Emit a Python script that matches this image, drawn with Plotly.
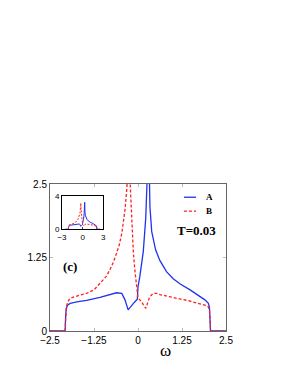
import plotly.graph_objects as go

# Series A (blue, solid)
omega_a = [-2.5, -2.07, -2.06, -2.04, -2.0, -1.93, -1.7, -1.46, -1.08, -0.7, -0.61,
           -0.46, -0.37, -0.28, -0.18, -0.1, -0.02, 0.0, 0.05, 0.1, 0.15, 0.22, 0.26,
           0.3, 0.32, 0.34, 0.39, 0.45, 0.5, 0.62, 0.81, 1.0, 1.2, 1.48, 1.76, 1.9,
           2.0, 2.03, 2.05, 2.06, 2.5]
dos_a = [0, 0, 0.2, 0.38, 0.44, 0.47, 0.5, 0.52, 0.57, 0.63, 0.65,
         0.64, 0.53, 0.36, 0.44, 0.49, 0.54, 0.75, 0.92, 1.12, 1.35, 1.92, 2.6,
         3.25, 2.7, 2.1, 1.69, 1.5, 1.38, 1.2, 1.01, 0.89, 0.8, 0.7, 0.58, 0.53,
         0.47, 0.4, 0.15, 0, 0]

# Series B (red, dashed)
omega_b = [-2.5, -2.07, -2.05, -2.02, -1.97, -1.93, -1.7, -1.46, -1.25, -1.08, -0.9,
           -0.8, -0.7, -0.61, -0.53, -0.46, -0.4, -0.37, -0.32, -0.26, -0.23, -0.18,
           -0.13, -0.09, -0.04, -0.01, 0.0, 0.05, 0.1, 0.15, 0.22, 0.27, 0.33, 0.43,
           0.55, 0.62, 0.8, 1.1, 1.4, 1.76, 1.9, 2.0, 2.03, 2.05, 2.06, 2.5]
dos_b = [0, 0, 0.25, 0.45, 0.52, 0.556, 0.6, 0.64, 0.7, 0.81, 0.93,
         1.04, 1.17, 1.32, 1.47, 1.66, 1.9, 2.06, 2.4, 3.15, 2.6, 1.89,
         1.32, 1.04, 0.75, 0.58, 0.56, 0.53, 0.5, 0.45, 0.386, 0.47, 0.58, 0.64,
         0.64, 0.62, 0.6, 0.556, 0.52, 0.47, 0.44, 0.41, 0.35, 0.15, 0, 0]

main_xticks = [-2.5, -1.25, 0, 1.25, 2.5]
main_xticktext = ["\u22122.5", "\u22121.25", "0", "1.25", "2.5"]
main_yticks = [0, 1.25, 2.5]
main_yticktext = ["0", "1.25", "2.5"]
inset_xticks = [-3, 0, 3]
inset_xticktext = ["\u22123", "0", "3"]
inset_yticks = [0, 4]
inset_yticktext = ["0", "4"]

blue = "#2233ee"
red = "#ff2020"

fig = go.Figure()
fig.add_trace(go.Scatter(x=omega_a, y=dos_a, mode="lines",
                         line=dict(color=blue, width=1.3), showlegend=False))
fig.add_trace(go.Scatter(x=omega_b, y=dos_b, mode="lines",
                         line=dict(color=red, width=1.3, dash="3px,2px"), showlegend=False))
fig.add_trace(go.Scatter(x=omega_a, y=dos_a, mode="lines", xaxis="x2", yaxis="y2",
                         line=dict(color=blue, width=1), showlegend=False))
fig.add_trace(go.Scatter(x=omega_b, y=dos_b, mode="lines", xaxis="x2", yaxis="y2",
                         line=dict(color=red, width=1, dash="2px,1.5px"), showlegend=False))

tickfont = dict(family="Liberation Sans, Arial, sans-serif", size=10, color="#000")
insetfont = dict(family="Liberation Sans, Arial, sans-serif", size=8, color="#000")
axcommon = dict(showgrid=False, zeroline=False, showline=True, linecolor="#666",
                linewidth=1, mirror="allticks", ticks="inside", ticklen=3,
                tickcolor="#bbb")

fig.update_layout(
    width=281, height=366,
    margin=dict(l=42, r=63, t=176, b=43),
    paper_bgcolor="white", plot_bgcolor="white",
    xaxis=dict(range=[-2.5, 2.5], tickvals=main_xticks, ticktext=main_xticktext,
               tickfont=tickfont, domain=[0, 1], **axcommon),
    yaxis=dict(range=[0, 2.5], tickvals=main_yticks, ticktext=main_yticktext,
               tickfont=tickfont, domain=[0, 1], **axcommon),
    xaxis2=dict(range=[-3, 3], tickvals=inset_xticks, ticktext=inset_xticktext,
                tickfont=insetfont, domain=[0.068, 0.303], anchor="y2",
                showgrid=False, zeroline=False, showline=True, linecolor="#000",
                linewidth=1, mirror=True, ticks="inside", ticklen=2),
    yaxis2=dict(range=[0, 4], tickvals=inset_yticks, ticktext=inset_yticktext,
                tickfont=insetfont, domain=[0.692, 0.918], anchor="x2",
                showgrid=False, zeroline=False, showline=True, linecolor="#000",
                linewidth=1, mirror=True, ticks="inside", ticklen=2),
)

serif = "Liberation Serif, Times New Roman, serif"
fig.add_annotation(text="\u03c9", xref="paper", yref="paper", x=0.657, y=-0.13,
                   showarrow=False, font=dict(family=serif, size=17, color="#000"),
                   xanchor="center", yanchor="middle")
fig.add_annotation(text="<b>T=0.03</b>", xref="paper", yref="paper", x=0.832, y=0.687,
                   showarrow=False, font=dict(family=serif, size=13, color="#000"),
                   xanchor="center", yanchor="middle")
fig.add_annotation(text="<b>(c)</b>", xref="paper", yref="paper", x=0.114, y=0.437,
                   showarrow=False, font=dict(family=serif, size=13, color="#000"),
                   xanchor="center", yanchor="middle")

# legend (drawn manually)
fig.add_shape(type="line", xref="paper", yref="paper", x0=0.761, x1=0.83, y0=0.91, y1=0.91,
              line=dict(color=blue, width=1.3))
fig.add_shape(type="line", xref="paper", yref="paper", x0=0.761, x1=0.83, y0=0.815, y1=0.815,
              line=dict(color=red, width=1.3, dash="3px,2px"))
fig.add_annotation(text="<b>A</b>", xref="paper", yref="paper", x=0.875, y=0.91,
                   showarrow=False, font=dict(family=serif, size=9, color="#000"),
                   xanchor="left", yanchor="middle")
fig.add_annotation(text="<b>B</b>", xref="paper", yref="paper", x=0.875, y=0.815,
                   showarrow=False, font=dict(family=serif, size=9, color="#000"),
                   xanchor="left", yanchor="middle")

fig.write_html("out.html")
